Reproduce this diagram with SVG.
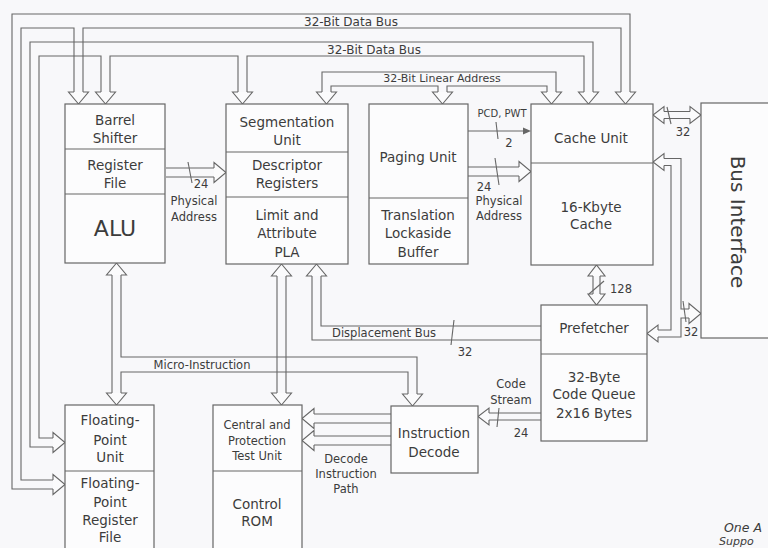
<svg xmlns="http://www.w3.org/2000/svg" xmlns:xlink="http://www.w3.org/1999/xlink" width="768" height="548" viewBox="0 0 768 548">
<style>
.b{fill:#fcfcfd;stroke:#666;stroke-width:1.2}
.d{stroke:#666;stroke-width:1.2;fill:none}
.c path{fill:none;stroke:#666;stroke-width:1.1}
.h{fill:#fbfbfc;stroke:#666;stroke-width:1.1}
text{font-family:"DejaVu Sans","Liberation Sans",sans-serif;fill:#3c3c3c}
.t{font-size:13.5px;text-anchor:middle}
.s{font-size:11.5px;text-anchor:middle}
</style>
<defs>
<path id="h9" d="M-4.5,-12H-10L0,0L10,-12H4.5"/>
<path id="h7" d="M-3.5,-11H-8.5L0,0L8.5,-11H3.5"/>
</defs>
<rect width="768" height="548" fill="#f8f8fa"/>

<g id="connectors" class="c">
<!-- 32-bit data bus 1 -->
<path d="M53,489H12V14H630V92"/>
<path d="M53,480H21V28H74V92"/>
<path d="M83,92V28H621V92"/>
<!-- 32-bit data bus 2 -->
<path d="M53,447H30V42H593V92"/>
<path d="M53,438H39V56H101V92"/>
<path d="M110,92V56H238V92"/>
<path d="M247,92V56H584V92"/>
<!-- linear address -->
<path d="M322,92V72H556V92"/>
<path d="M331,92V86H438V92"/>
<path d="M447,92V86H547V92"/>
<!-- register file to segmentation -->
<path d="M166,168H214M166,177H214"/>
<path d="M188,162L192,183"/>
<!-- PCD PWT -->
<path d="M468,131H524"/>
<path d="M496,122L498,139"/>
<!-- paging to cache -->
<path d="M468,167H519M468,176H519"/>
<path d="M495,158L499,185"/>
<!-- cache bus interface -->
<path d="M664,111.5H690M664,118.5H690"/>
<path d="M667,107L671,124"/>
<!-- cache prefetcher -->
<path d="M593,276V294M600,276V294"/>
<path d="M589,294L604,281"/>
<!-- bus interface to cache/prefetcher -->
<path d="M664,158.5H681V309H690"/>
<path d="M664,165.5H671V330H658"/>
<path d="M690,318H681V337H658"/>
<path d="M683,301L686,322"/>
<!-- displacement bus -->
<path d="M541,326H321V276"/>
<path d="M541,340H312V276"/>
<path d="M454,320L451,345"/>
<!-- ALU FPU and micro-instruction -->
<path d="M112,275V393"/>
<path d="M121,275V357H417V394"/>
<path d="M121,393V372H408V394"/>
<!-- segmentation central -->
<path d="M277,276V393M286,276V393"/>
<!-- decode to central -->
<path d="M391,414H314M391,423H314"/>
<path d="M391,436H314M391,445H314"/>
<!-- code stream -->
<path d="M541,413H489M541,420H489"/>
<path d="M499,408L497,427"/>

<use class="h" xlink:href="#h9" transform="translate(78.5,104)"/>
<use class="h" xlink:href="#h9" transform="translate(625.5,104)"/>
<use class="h" xlink:href="#h9" transform="translate(65,484.5) rotate(-90)"/>
<use class="h" xlink:href="#h9" transform="translate(105.5,104)"/>
<use class="h" xlink:href="#h9" transform="translate(242.5,104)"/>
<use class="h" xlink:href="#h9" transform="translate(588.5,104)"/>
<use class="h" xlink:href="#h9" transform="translate(65,442.5) rotate(-90)"/>
<use class="h" xlink:href="#h9" transform="translate(326.5,104)"/>
<use class="h" xlink:href="#h9" transform="translate(442.5,104)"/>
<use class="h" xlink:href="#h9" transform="translate(551.5,104)"/>
<use class="h" xlink:href="#h9" transform="translate(226,172.5) rotate(-90)"/>
<polygon points="531,131 523,127.5 523,134.5" fill="#666"/>
<use class="h" xlink:href="#h9" transform="translate(531,171.5) rotate(-90)"/>
<use class="h" xlink:href="#h7" transform="translate(653,115) rotate(90)"/>
<use class="h" xlink:href="#h7" transform="translate(701,115) rotate(-90)"/>
<use class="h" xlink:href="#h7" transform="translate(596.5,265) rotate(180)"/>
<use class="h" xlink:href="#h7" transform="translate(596.5,305)"/>
<use class="h" xlink:href="#h7" transform="translate(653,162) rotate(90)"/>
<use class="h" xlink:href="#h7" transform="translate(647,333.5) rotate(90)"/>
<use class="h" xlink:href="#h9" transform="translate(701,313.5) rotate(-90)"/>
<use class="h" xlink:href="#h9" transform="translate(316.5,264) rotate(180)"/>
<use class="h" xlink:href="#h9" transform="translate(116.5,263) rotate(180)"/>
<use class="h" xlink:href="#h9" transform="translate(116.5,405)"/>
<use class="h" xlink:href="#h9" transform="translate(412.5,406)"/>
<use class="h" xlink:href="#h9" transform="translate(281.5,264) rotate(180)"/>
<use class="h" xlink:href="#h9" transform="translate(281.5,405)"/>
<use class="h" xlink:href="#h9" transform="translate(302,418.5) rotate(90)"/>
<use class="h" xlink:href="#h9" transform="translate(302,440.5) rotate(90)"/>
<use class="h" xlink:href="#h7" transform="translate(478,416.5) rotate(90)"/>

<text x="351" y="25.5" style="font-size:12px" text-anchor="middle">32-Bit Data Bus</text>
<text x="374" y="53.5" style="font-size:12px" text-anchor="middle">32-Bit Data Bus</text>
<text x="442" y="82" style="font-size:11px" text-anchor="middle">32-Bit Linear Address</text>
<text class="s" x="201" y="188">24</text>
<text class="s" x="194" y="205">Physical</text>
<text class="s" x="194" y="221">Address</text>
<text x="502" y="117" style="font-size:10px" text-anchor="middle">PCD, PWT</text>
<text class="s" x="509" y="147">2</text>
<text class="s" x="484" y="191">24</text>
<text class="s" x="499" y="205">Physical</text>
<text class="s" x="499" y="220">Address</text>
<text class="s" x="683" y="136">32</text>
<text class="s" x="621" y="293">128</text>
<text class="s" x="691" y="336">32</text>
<text class="s" x="384" y="337">Displacement Bus</text>
<text class="s" x="465" y="356">32</text>
<text class="s" x="202" y="369">Micro-Instruction</text>
<text class="s" x="346" y="463">Decode</text>
<text class="s" x="346" y="478">Instruction</text>
<text class="s" x="346" y="493">Path</text>
<text class="s" x="511" y="388">Code</text>
<text class="s" x="511" y="404">Stream</text>
<text class="s" x="521" y="437">24</text>
</g>

<g id="alu">
<rect class="b" x="65" y="104" width="100" height="159"/>
<path class="d" d="M65,149H165M65,194H165"/>
<text class="t" x="115" y="125">Barrel</text>
<text class="t" x="115" y="143">Shifter</text>
<text class="t" x="115" y="170">Register</text>
<text class="t" x="115" y="188">File</text>
<text x="115" y="236" style="font-size:22px" text-anchor="middle">ALU</text>
</g>

<g id="segmentation">
<rect class="b" x="226" y="104" width="122" height="160"/>
<path class="d" d="M226,152H348M226,197H348"/>
<text class="t" x="287" y="127">Segmentation</text>
<text class="t" x="287" y="145">Unit</text>
<text class="t" x="287" y="170">Descriptor</text>
<text class="t" x="287" y="188">Registers</text>
<text class="t" x="287" y="220">Limit and</text>
<text class="t" x="287" y="238">Attribute</text>
<text class="t" x="287" y="257">PLA</text>
</g>

<g id="paging">
<rect class="b" x="369" y="104" width="99" height="160"/>
<path class="d" d="M369,198H468"/>
<text class="t" x="418" y="162">Paging Unit</text>
<text class="t" x="418" y="220">Translation</text>
<text class="t" x="418" y="238">Lockaside</text>
<text class="t" x="418" y="257">Buffer</text>
</g>

<g id="cache">
<rect class="b" x="531" y="104" width="122" height="161"/>
<path class="d" d="M531,163H653"/>
<text class="t" x="591" y="143">Cache Unit</text>
<text class="t" x="591" y="212">16-Kbyte</text>
<text class="t" x="591" y="229">Cache</text>
</g>

<g id="bus-interface">
<rect class="b" x="701" y="103" width="80" height="235"/>
<text transform="translate(731,222) rotate(90)" style="font-size:20px" text-anchor="middle">Bus Interface</text>
</g>

<g id="prefetcher">
<rect class="b" x="541" y="305" width="106" height="136"/>
<path class="d" d="M541,354H647"/>
<text class="t" x="594" y="333">Prefetcher</text>
<text class="t" x="594" y="382">32-Byte</text>
<text class="t" x="594" y="399">Code Queue</text>
<text class="t" x="594" y="418">2x16 Bytes</text>
</g>

<g id="instruction-decode">
<rect class="b" x="391" y="406" width="87" height="67"/>
<text class="t" x="434" y="438">Instruction</text>
<text class="t" x="434" y="457">Decode</text>
</g>

<g id="control">
<rect class="b" x="213" y="405" width="89" height="160"/>
<path class="d" d="M213,471H302"/>
<text class="s" x="257" y="429">Central and</text>
<text class="s" x="257" y="445">Protection</text>
<text class="s" x="257" y="460">Test Unit</text>
<text class="t" x="257" y="509">Control</text>
<text class="t" x="257" y="526">ROM</text>
</g>

<g id="fpu">
<rect class="b" x="65" y="405" width="89" height="160"/>
<path class="d" d="M65,471H154"/>
<text class="t" x="110" y="425">Floating-</text>
<text class="t" x="110" y="445">Point</text>
<text class="t" x="110" y="462">Unit</text>
<text class="t" x="110" y="488">Floating-</text>
<text class="t" x="110" y="507">Point</text>
<text class="t" x="110" y="525">Register</text>
<text class="t" x="110" y="542">File</text>
</g>

<g id="caption">
<text x="724" y="532" style="font-size:12.5px;font-style:italic">One A</text>
<text x="719" y="544.5" style="font-size:11px;font-style:italic">Suppo</text>
</g>
</svg>
